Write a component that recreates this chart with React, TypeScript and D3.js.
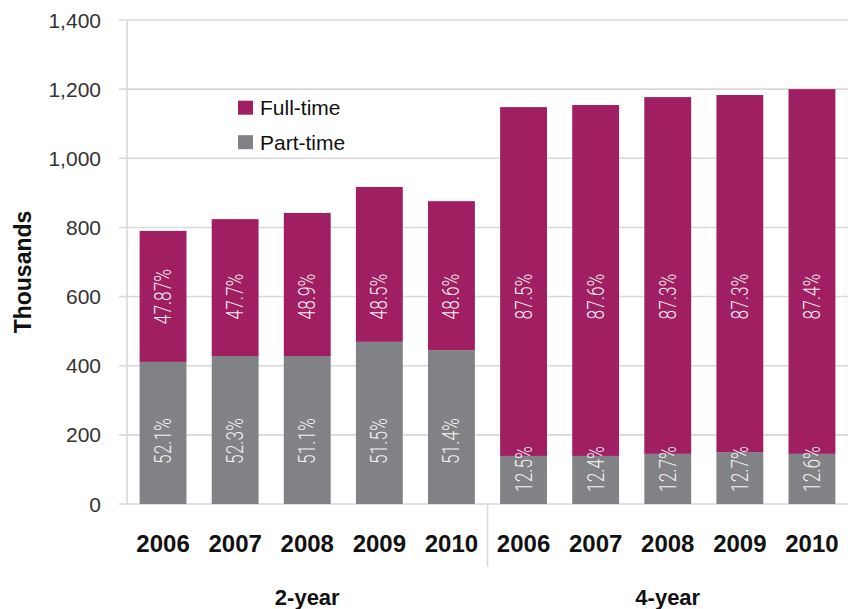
import React from "react";
import * as d3 from "d3";

const years = ["2006", "2007", "2008", "2009", "2010"];
const groups = ["2-year", "4-year"];
const totals2yr = [790, 824, 842, 917, 876];
const part2yr = [411, 428, 428, 469, 445];
const totals4yr = [1148, 1154, 1177, 1183, 1200];
const part4yr = [139, 139, 145, 150, 145];
const fullPct2yr = ["47.87%", "47.7%", "48.9%", "48.5%", "48.6%"];
const partPct2yr = ["52.1%", "52.3%", "51.1%", "51.5%", "51.4%"];
const fullPct4yr = ["87.5%", "87.6%", "87.3%", "87.3%", "87.4%"];
const partPct4yr = ["12.5%", "12.4%", "12.7%", "12.7%", "12.6%"];
// value (in thousands) at which each group's labels are centred
const fullLabelAt = [600, 600];
const partLabelAt = [182, 101];
const yTicks = [0, 200, 400, 600, 800, 1000, 1200, 1400];
const seriesNames = ["Full-time", "Part-time"];

const FULL = "#A01F62";
const PART = "#808285";
const GRID = "#d9d9d9";

export default function App() {
  const W = 848, H = 609;
  const left = 127, right = 848, top = 20, bottom = 504;
  const y = d3.scaleLinear().domain([0, 1400]).range([bottom, top]);
  const rows = groups.flatMap((g, gi) =>
    years.map((yr, i) => ({
      key: `${g}-${yr}`,
      group: gi,
      year: yr,
      total: gi === 0 ? totals2yr[i] : totals4yr[i],
      part: gi === 0 ? part2yr[i] : part4yr[i],
      fullPct: gi === 0 ? fullPct2yr[i] : fullPct4yr[i],
      partPct: gi === 0 ? partPct2yr[i] : partPct4yr[i],
    }))
  );
  const x = d3
    .scaleBand<string>()
    .domain(rows.map((r) => r.key))
    .range([left, right])
    .paddingInner(0.35)
    .paddingOuter(0.175);
  const bw = x.bandwidth();
  const step = x.step();
  const sepX = (x(rows[5].key) as number) - (step - bw) / 2;
  const groupCenter = (gi: number) => {
    const a = (x(rows[gi * 5].key) as number) + bw / 2;
    const b = (x(rows[gi * 5 + 4].key) as number) + bw / 2;
    return (a + b) / 2;
  };
  const pctStyle: React.CSSProperties = {
    fontFamily: "Roboto, 'Liberation Sans Narrow', sans-serif",
    fontWeight: 300,
    fontSize: 24,
  };

  return (
    <svg width={W} height={H} style={{ position: "absolute", left: 0, top: 0, background: "#fff" }}>
      {yTicks.map((t) => (
        <g key={t}>
          <line x1={119} x2={right} y1={y(t)} y2={y(t)} stroke={GRID} strokeWidth={1.6} />
          <text
            x={101}
            y={y(t)}
            textAnchor="end"
            dominantBaseline="central"
            style={{ fontFamily: "'Liberation Sans', Arial, sans-serif", fontSize: 21, fill: "#333" }}
          >
            {d3.format(",")(t)}
          </text>
        </g>
      ))}
      <line x1={left} x2={left} y1={top} y2={bottom} stroke={GRID} strokeWidth={1.6} />
      <line x1={sepX} x2={sepX} y1={bottom} y2={567} stroke={GRID} strokeWidth={1.6} />

      {rows.map((r) => {
        const bx = x(r.key) as number;
        const cx = bx + bw / 2;
        const fy = y(fullLabelAt[r.group]);
        const py = y(partLabelAt[r.group]);
        return (
          <g key={r.key}>
            <rect x={bx} y={y(r.part)} width={bw} height={y(0) - y(r.part)} fill={PART} />
            <rect x={bx} y={y(r.total)} width={bw} height={y(r.part) - y(r.total)} fill={FULL} />
            <text
              transform={`translate(${cx},${fy}) rotate(-90) scale(0.72,1)`}
              textAnchor="middle"
              dominantBaseline="central"
              fill="#fff"
              fillOpacity={0.92}
              style={pctStyle}
            >
              {r.fullPct}
            </text>
            <text
              transform={`translate(${cx},${py}) rotate(-90) scale(0.72,1)`}
              textAnchor="middle"
              dominantBaseline="central"
              fill="#fff"
              fillOpacity={0.92}
              style={pctStyle}
            >
              {r.partPct}
            </text>
            <text
              x={cx}
              y={543}
              textAnchor="middle"
              dominantBaseline="central"
              style={{ fontFamily: "'Liberation Sans Narrow', 'Liberation Sans', sans-serif", fontWeight: 700, fontSize: 24, fill: "#111" }}
            >
              {r.year}
            </text>
          </g>
        );
      })}

      {groups.map((g, gi) => (
        <text
          key={g}
          x={groupCenter(gi)}
          y={597}
          textAnchor="middle"
          dominantBaseline="central"
          style={{ fontFamily: "'Liberation Sans', Arial, sans-serif", fontWeight: 700, fontSize: 22, fill: "#111" }}
        >
          {g}
        </text>
      ))}

      <text
        transform={`translate(23,272) rotate(-90)`}
        textAnchor="middle"
        dominantBaseline="central"
        style={{ fontFamily: "'Liberation Sans Narrow', 'Liberation Sans', sans-serif", fontWeight: 700, fontSize: 23, fill: "#111" }}
      >
        Thousands
      </text>

      {seriesNames.map((s, i) => (
        <g key={s} transform={`translate(238,${100.7 + i * 34.5})`}>
          <rect x={0} y={0} width={15} height={14} fill={i === 0 ? FULL : PART} />
          <text
            x={22}
            y={7}
            dominantBaseline="central"
            style={{ fontFamily: "'Liberation Sans', Arial, sans-serif", fontSize: 21, fill: "#111" }}
          >
            {s}
          </text>
        </g>
      ))}
    </svg>
  );
}
